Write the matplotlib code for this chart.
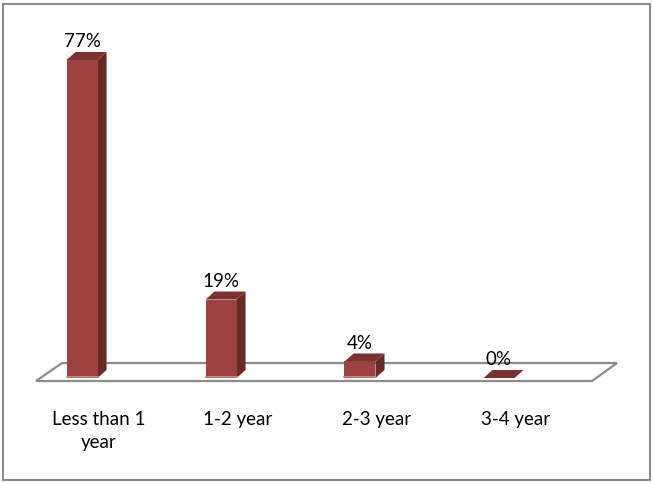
import matplotlib
matplotlib.use("Agg")
import matplotlib.pyplot as plt
from matplotlib.patches import Polygon, Rectangle

categories = ["Less than 1\nyear", "1-2 year", "2-3 year", "3-4 year"]
values = [77, 19, 4, 0]
value_labels = ["77%", "19%", "4%", "0%"]

FRONT = "#9c4341"
SIDE = "#672a29"
TOP = "#7b3231"

plt.rcParams["font.family"] = ["Lato", "DejaVu Sans"]

fig = plt.figure(figsize=(6.53, 4.83), dpi=100)
ax = fig.add_axes([0, 0, 1, 1])
ax.set_xlim(-0.59, 4.108)
ax.set_ylim(-25.42, 91.53)
ax.axis("off")

# outer chart border
fig.patches.append(Rectangle((3 / 653, 3 / 483), 647 / 653, 476 / 483,
                             transform=fig.transFigure, fill=False,
                             edgecolor="#8a8a8a", lw=1.5))

# floor of the pseudo-3D chart
floor = Polygon([(-0.331, -0.73), (3.669, -0.73), (3.849, 3.63), (-0.144, 3.63)],
                closed=True, facecolor="white", edgecolor="#8c8c8c", lw=1.6, zorder=1)
ax.add_patch(floor)

width = 0.223
dx, dy = 0.065, 1.94
for i, v in enumerate(values):
    left = i - width / 2
    right = i + width / 2
    # side face
    ax.add_patch(Polygon([(right, 0), (right + dx, dy), (right + dx, v + dy), (right, v)],
                         closed=True, facecolor=SIDE, edgecolor="none", zorder=2))
    # top face
    ax.add_patch(Polygon([(left, v), (right, v), (right + dx, v + dy), (left + dx, v + dy)],
                         closed=True, facecolor=TOP, edgecolor="none", zorder=3))
    # front face
    if v > 0:
        ax.bar(i, v, width=width, color=FRONT, edgecolor="none", zorder=3)
        ax.plot([left, right], [0.15, 0.15], color="#d48a88", lw=1.2, zorder=4)
    ax.text(i, v + dy + 1.2, value_labels[i], ha="center", va="baseline",
            fontsize=13.5, color="black")
    ax.text(i + 0.12, -8.0, categories[i], ha="center", va="top",
            fontsize=13.5, color="black", linespacing=1.45)

fig.savefig("out.png", dpi=100)
